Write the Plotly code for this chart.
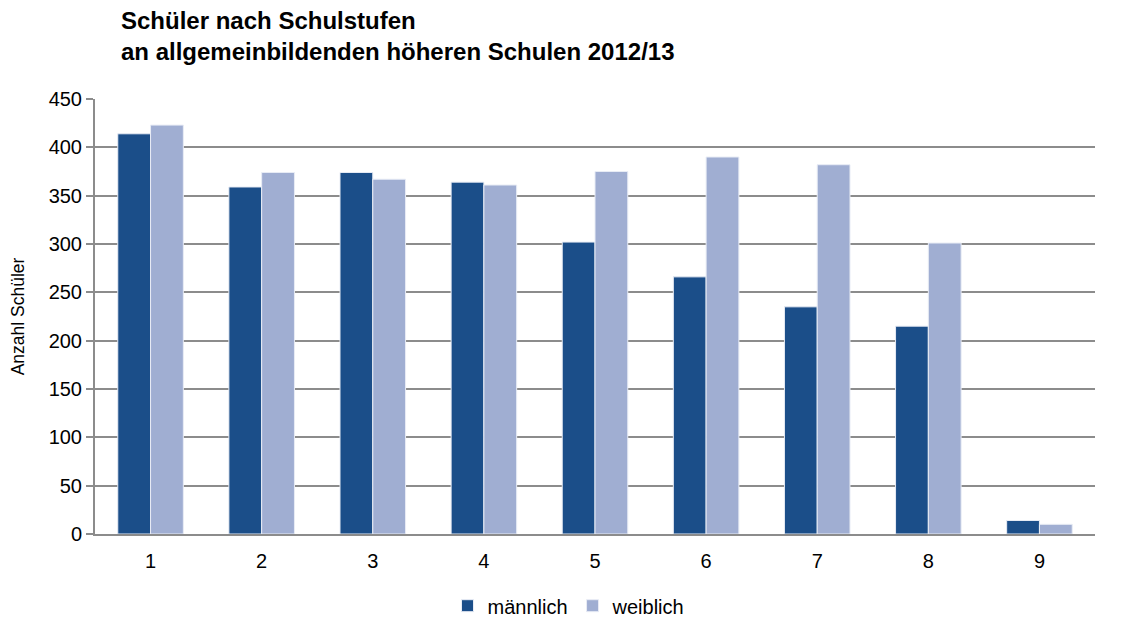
import plotly.graph_objects as go

categories = ["1", "2", "3", "4", "5", "6", "7", "8", "9"]
maennlich = [414, 359, 374, 364, 302, 266, 235, 215, 14]
weiblich = [423, 374, 367, 361, 375, 390, 382, 301, 10]
y_ticks = [0, 50, 100, 150, 200, 250, 300, 350, 400, 450]
title_text = "<b>Schüler nach Schulstufen<br>an allgemeinbildenden höheren Schulen 2012/13</b>"

fig = go.Figure()
fig.add_trace(go.Bar(x=categories, y=maennlich, name="männlich",
                     marker=dict(color="#1B4E89", line=dict(color="#E8ECF5", width=1))))
fig.add_trace(go.Bar(x=categories, y=weiblich, name="weiblich",
                     marker=dict(color="#A0AED2", line=dict(color="#E8ECF5", width=1))))

fig.update_layout(
    width=1128, height=620,
    margin=dict(l=87, r=41, t=91, b=94, autoexpand=False),
    paper_bgcolor="white", plot_bgcolor="white",
    font=dict(family="Liberation Sans, Arial, sans-serif", size=20, color="#000"),
    barmode="group", bargap=0.41, bargroupgap=0,
    legend=dict(orientation="h", x=0.474, xanchor="center", y=-0.12, yanchor="top",
                font=dict(size=20), itemwidth=30, tracegroupgap=0),
    showlegend=True,
)
fig.add_annotation(text=title_text, xref="paper", yref="paper", x=0.024, y=1.215,
                   xanchor="left", yanchor="top", align="left", showarrow=False,
                   font=dict(size=24, color="#000"))
fig.update_xaxes(showgrid=False, showline=True, linecolor="#8C8C8C", linewidth=2,
                 ticks="", tickfont=dict(size=20), ticklabelstandoff=8)
fig.update_yaxes(range=[0, 450], tickvals=y_ticks, showgrid=True, gridcolor="#8C8C8C",
                 gridwidth=2, showline=True, linecolor="#8C8C8C", linewidth=2,
                 ticks="outside", ticklen=7, tickcolor="#8C8C8C", tickwidth=2,
                 tickfont=dict(size=20), zeroline=False,
                 title=dict(text="Anzahl Schüler", font=dict(size=17.5), standoff=20))

fig.write_html("out.html")
